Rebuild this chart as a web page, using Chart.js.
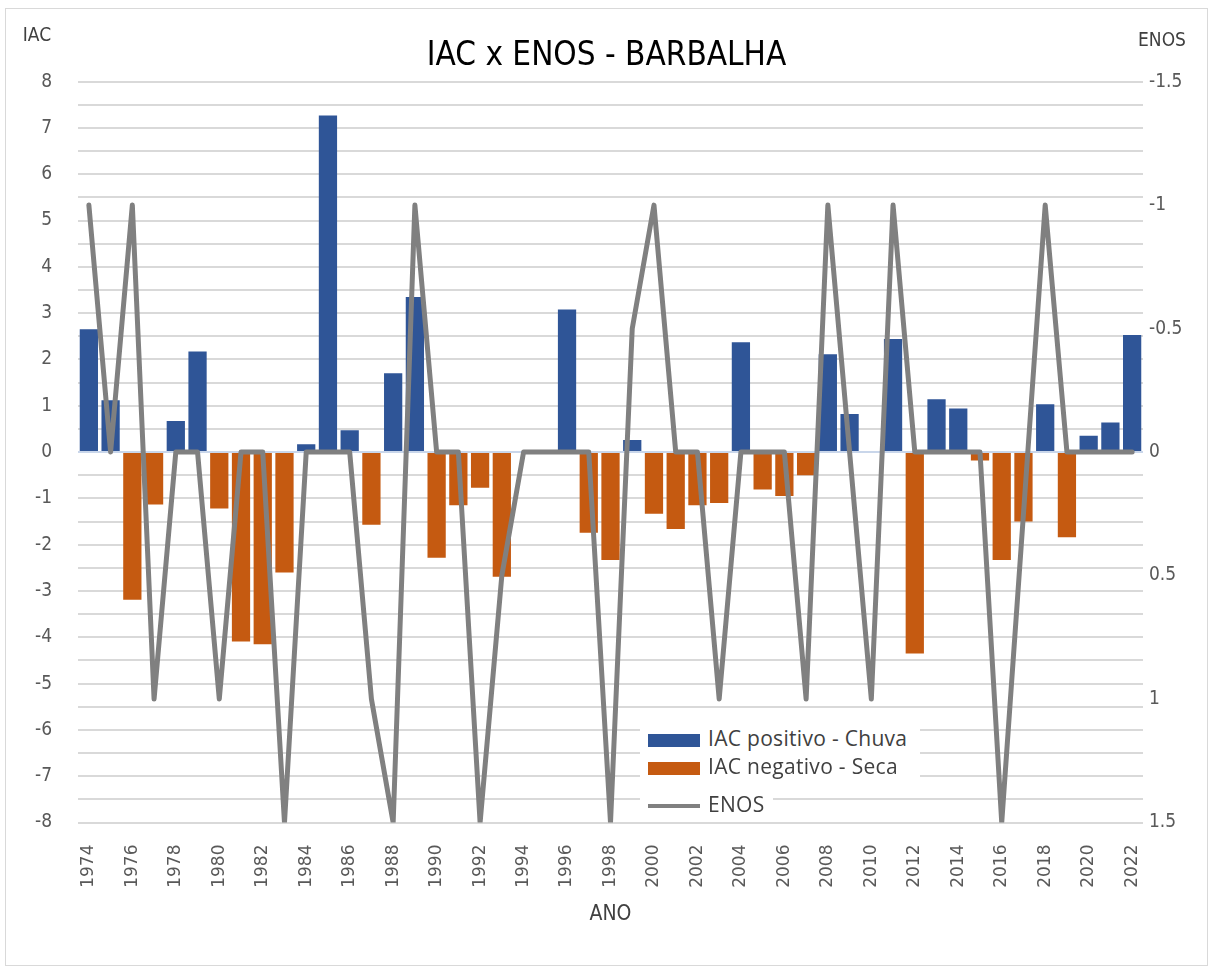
<!DOCTYPE html>
<html>
<head>
<meta charset="utf-8">
<script src="https://cdn.jsdelivr.net/npm/chart.js@4.4.1/dist/chart.umd.min.js"></script>
<style>
  body { margin: 0; background: #fff; }
  #wrap { position: relative; width: 1213px; height: 971px; }
  .leg { position: absolute; background: #fff; font-family: "Open Sans", sans-serif; font-size: 21px; letter-spacing: 0.3px; color: #404040; height: 28px; line-height: 28px; white-space: nowrap; }
  .sw { display: inline-block; width: 52px; vertical-align: middle; margin-right: 8px; }
</style>
</head>
<body>
<div id="wrap">
  <canvas id="myChart" width="1213" height="971"></canvas>
  <div class="leg" style="left:640px; top:724px; width:280px;"><span class="sw" style="height:13px; background:#2f5597; margin-left:8px;"></span>IAC positivo - Chuva</div>
  <div class="leg" style="left:640px; top:752px; width:280px;"><span class="sw" style="height:13px; background:#c55a11; margin-left:8px;"></span>IAC negativo - Seca</div>
  <div class="leg" style="left:640px; top:790px; width:133px;"><span class="sw" style="height:4px; background:#808080; margin-left:8px;"></span>ENOS</div>
</div>
<script>
const anos = [];
for (let a = 1974; a <= 2022; a++) {
  anos.push(String(a));
}

// IAC acima de zero (chuva)
const iacPositivo = [
  2.65, 1.12, null, null, 0.67, 2.17, null, null, null, null,
  0.17, 7.27, 0.47, null, 1.70, 3.35, null, null, null, null,
  null, null, 3.08, null, null, 0.26, null, null, null, null,
  2.37, null, null, null, 2.11, 0.82, null, 2.44, null, 1.14,
  0.94, null, null, null, 1.03, null, 0.35, 0.64, 2.53
];

// IAC abaixo de zero (seca)
const iacNegativo = [
  null, null, -3.19, -1.13, null, null, -1.22, -4.09, -4.15, -2.60,
  null, null, null, -1.57, null, null, -2.28, -1.15, -0.77, -2.69,
  null, null, null, -1.74, -2.33, null, -1.33, -1.66, -1.15, -1.10,
  null, -0.81, -0.95, -0.50, null, null, null, null, -4.35, null,
  null, -0.18, -2.33, -1.50, null, -1.84, null, null, null
];

const enos = [
  -1, 0, -1, 1, 0, 0, 1, 0, 0, 1.5,
  0, 0, 0, 1, 1.5, -1, 0, 0, 1.5, 0.5,
  0, 0, 0, 0, 1.5, -0.5, -1, 0, 0, 1,
  0, 0, 0, 1, -1, 0, 1, -1, 0, 0,
  0, 0, 1.5, 0.25, -1, 0, 0, 0, 0
];

const narrow = "'Liberation Sans Narrow', 'DejaVu Sans Condensed', 'Open Sans', sans-serif";

const extras = {
  id: "extras",
  beforeDraw(chart) {
    const ctx = chart.ctx;
    ctx.save();
    ctx.fillStyle = "#fff";
    ctx.fillRect(0, 0, chart.width, chart.height);
    ctx.strokeStyle = "#d9d9d9";
    ctx.lineWidth = 1;
    ctx.strokeRect(5.5, 8.5, chart.width - 11, chart.height - 14);
    ctx.restore();
  },
  afterDraw(chart) {
    const ctx = chart.ctx;
    ctx.save();
    ctx.fillStyle = "#404040";
    ctx.font = "19px " + narrow;
    ctx.textAlign = "center";
    ctx.textBaseline = "middle";
    ctx.fillText("IAC", 37, 36);
    ctx.fillText("ENOS", 1162, 41);
    ctx.restore();
  },
};

new Chart("myChart", {
  type: "bar",
  data: {
    labels: anos,
    datasets: [
      {
        type: "line",
        label: "ENOS",
        data: enos,
        yAxisID: "y1",
        borderColor: "#808080",
        borderWidth: 5,
        borderJoinStyle: "round",
        borderCapStyle: "round",
        pointRadius: 0,
        fill: false,
        order: 0,
      },
      {
        label: "IAC positivo - Chuva",
        data: iacPositivo,
        yAxisID: "y",
        backgroundColor: "#2f5597",
        grouped: false,
        order: 1,
      },
      {
        label: "IAC negativo - Seca",
        data: iacNegativo,
        yAxisID: "y",
        backgroundColor: "#c55a11",
        grouped: false,
        order: 2,
      },
    ],
  },
  options: {
    responsive: false,
    animation: false,
    layout: { padding: { left: 0, right: 0, top: 0, bottom: 44 } },
    datasets: {
      bar: { categoryPercentage: 1, barPercentage: 0.84 },
    },
    plugins: {
      legend: { display: false },
      tooltip: { enabled: false },
      title: {
        display: true,
        text: "IAC x ENOS - BARBALHA",
        color: "#000",
        font: { family: narrow, size: 33, weight: "normal" },
        padding: { top: 37, bottom: 5 },
      },
    },
    scales: {
      x: {
        grid: { display: false },
        border: { display: false },
        ticks: {
          autoSkip: false,
          minRotation: 90,
          maxRotation: 90,
          padding: 14,
          color: "#595959",
          font: { family: "'DejaVu Sans'", size: 17 },
          callback: function (val, idx) {
            return idx % 2 === 0 ? this.getLabelForValue(val) : "";
          },
        },
        title: {
          display: true,
          text: "ANO",
          color: "#404040",
          font: { family: narrow, size: 21 },
          padding: { top: 0, bottom: 0 },
        },
      },
      y: {
        position: "left",
        min: -8,
        max: 8,
        afterFit: (scale) => { scale.width = 78; },
        grid: {
          color: (c) => (c.tick && c.tick.value === 0 ? "#c9d6ea" : "#d9d9d9"),
          lineWidth: 2,
          drawTicks: false,
        },
        border: { display: false },
        ticks: {
          stepSize: 0.5,
          autoSkip: false,
          padding: 26,
          color: "#595959",
          font: { family: narrow, size: 19 },
          callback: (v) => (Number.isInteger(v) ? String(v) : ""),
        },
      },
      y1: {
        position: "right",
        reverse: true,
        min: -1.5,
        max: 1.5,
        afterFit: (scale) => { scale.width = 70; },
        grid: { display: false, drawTicks: false },
        border: { display: false },
        ticks: {
          stepSize: 0.5,
          padding: 6,
          color: "#595959",
          font: { family: narrow, size: 19 },
          callback: (v) => String(v),
        },
      },
    },
  },
  plugins: [extras],
});
</script>
</body>
</html>
